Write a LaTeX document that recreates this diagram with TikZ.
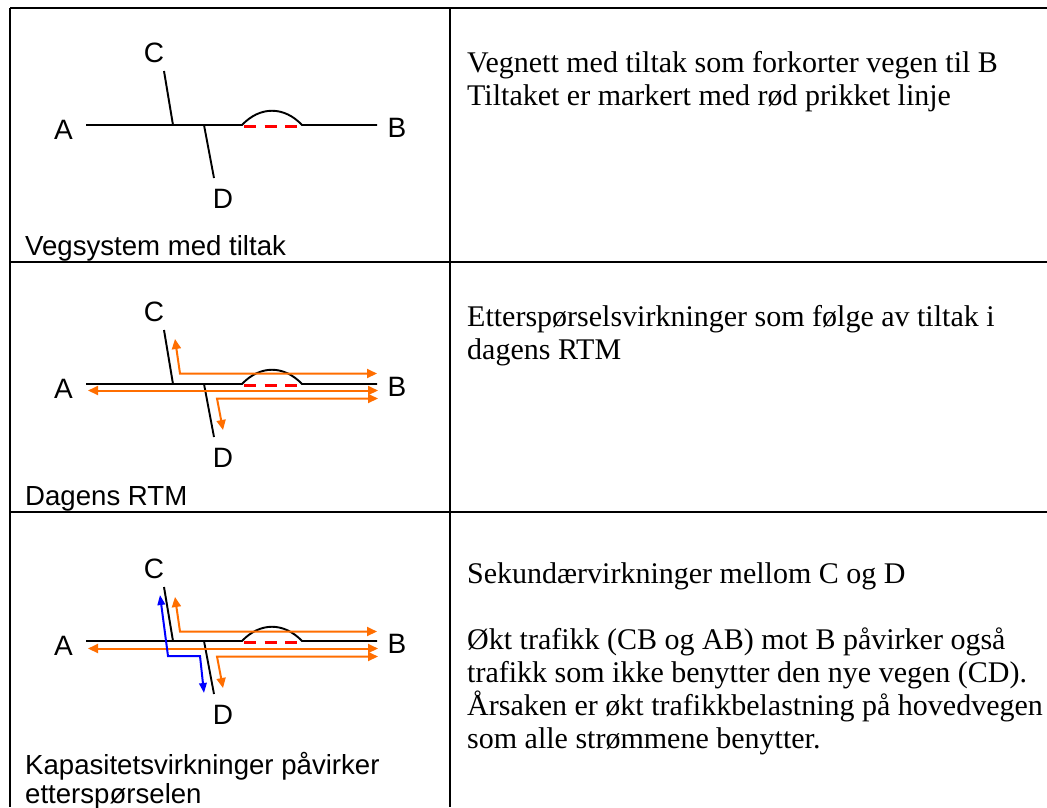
\documentclass[tikz,border=0pt]{standalone}
\usepackage{fontspec}
\setmainfont{Liberation Serif}
\newfontfamily\labelfont{Liberation Sans}
\usetikzlibrary{arrows.meta}

\definecolor{flow}{RGB}{255,110,0}
\definecolor{newlink}{RGB}{255,0,0}
\definecolor{cdflow}{RGB}{0,0,255}

% one copy of the road network: #1 = name prefix, #2 = vertical offset
\newcommand\roadnet[2]{%
\begin{scope}[shift={(0,#2)}]
  \node[place] (#1A) at (63.5,130) {A};
  \node[place] (#1B) at (397,127.5) {B};
  \node[place] (#1C) at (154,53) {C};
  \node[place] (#1D) at (223,199) {D};
  \coordinate (#1west) at (86,125);
  \coordinate (#1east) at (377,125);
  \coordinate (#1bumpL) at (242,125);
  \coordinate (#1bumpR) at (302,125);
  \coordinate (#1ctop) at (164,71);
  \coordinate (#1cfoot) at (173,125);
  \coordinate (#1dtop) at (204,125);
  \coordinate (#1dfoot) at (214,178);
  \coordinate (#1cutL) at (244,126);
  \coordinate (#1cutR) at (301,126);
  % main road with the old detour
  \draw[road] (#1west) -- (#1bumpL)
     .. controls +(18,-19) and +(-18,-19) .. (#1bumpR) -- (#1east);
  \draw[road] (#1ctop) -- (#1cfoot);
  \draw[road] (#1dtop) -- (#1dfoot);
  % the new short link
  \draw[cut] (#1cutL) -- (#1cutR);
\end{scope}}

% demand flows drawn on a network copy
\newcommand\flows[2]{%
\begin{scope}[shift={(0,#2)}]
  \coordinate (#1cbC) at (175,80);
  \coordinate (#1cbK) at (180,114.5);
  \coordinate (#1cbB) at (377,114.5);
  \coordinate (#1abA) at (88,131.5);
  \coordinate (#1abB) at (378,131.5);
  \coordinate (#1dbD) at (223,171);
  \coordinate (#1dbK) at (217,139.5);
  \coordinate (#1dbB) at (378,139.5);
  \draw[flowarrow] (#1cbC) -- (#1cbK) -- (#1cbB);
  \draw[flowarrow] (#1abA) -- (#1abB);
  \draw[flowarrow] (#1dbD) -- (#1dbK) -- (#1dbB);
\end{scope}}

\begin{document}
\begin{tikzpicture}[x=1pt,y=-1pt,
  rule/.style={line width=2.4pt,black},
  road/.style={line width=1.9pt,black},
  cut/.style={line width=3pt,newlink,dash pattern=on 12pt off 8.5pt},
  flowarrow/.style={line width=2pt,flow,
     {Triangle[length=10pt,width=9pt]}-{Triangle[length=10pt,width=9pt]}},
  cdarrow/.style={line width=2pt,cdflow,
     {Triangle[length=10pt,width=7.5pt]}-{Triangle[length=10pt,width=7.5pt]}},
  place/.style={inner sep=0pt,font=\labelfont\fontsize{28}{31}\selectfont},
  caption/.style={anchor=base west,inner sep=0pt,
     font=\labelfont\fontsize{27.6}{30}\selectfont},
  remark/.style={anchor=base west,inner sep=0pt,
     font=\fontsize{30}{33}\selectfont}
]
\useasboundingbox (0,0) rectangle (1047,807);
\fill[white] (0,0) rectangle (1047,807);

% table rules
\draw[rule] (10,8) -- (1047,8);
\draw[rule] (10,262) -- (1047,262);
\draw[rule] (10,512) -- (1047,512);
\draw[rule] (10,8) -- (10,807);
\draw[rule] (450,8) -- (450,807);

% row 1: network with the measure
\roadnet{p}{0}
\node[caption] (cap1) at (25,255) {Vegsystem med tiltak};
\node[remark] (r1a) at (467,72) {Vegnett med tiltak som forkorter vegen til B};
\node[remark] (r1b) at (467,105) {Tiltaket er markert med rød prikket linje};

% row 2: demand effects in today's model
\roadnet{q}{259}
\flows{q}{259}
\node[caption] (cap2) at (25,505) {Dagens RTM};
\node[remark] (r2a) at (467,326) {Etterspørselsvirkninger som følge av tiltak i};
\node[remark] (r2b) at (467,359) {dagens RTM};

% row 3: capacity effects
\roadnet{s}{516}
\flows{s}{517}
\begin{scope}[shift={(0,516)}]
  \coordinate (cdC) at (160,79);
  \coordinate (cdK1) at (168,140);
  \coordinate (cdK2) at (200,140);
  \coordinate (cdD) at (204,177);
  \draw[cdarrow] (cdC) -- (cdK1) -- (cdK2) -- (cdD);
\end{scope}
\node[caption] (cap3a) at (25,774) {Kapasitetsvirkninger påvirker};
\node[caption] (cap3b) at (25,803) {etterspørselen};
\node[remark] (r3a) at (467,583) {Sekundærvirkninger mellom C og D};
\node[remark] (r3b) at (467,649) {Økt trafikk (CB og AB) mot B påvirker også};
\node[remark] (r3c) at (467,682) {trafikk som ikke benytter den nye vegen (CD).};
\node[remark] (r3d) at (467,715) {Årsaken er økt trafikkbelastning på hovedvegen};
\node[remark] (r3e) at (467,748) {som alle strømmene benytter.};
\end{tikzpicture}
\end{document}
